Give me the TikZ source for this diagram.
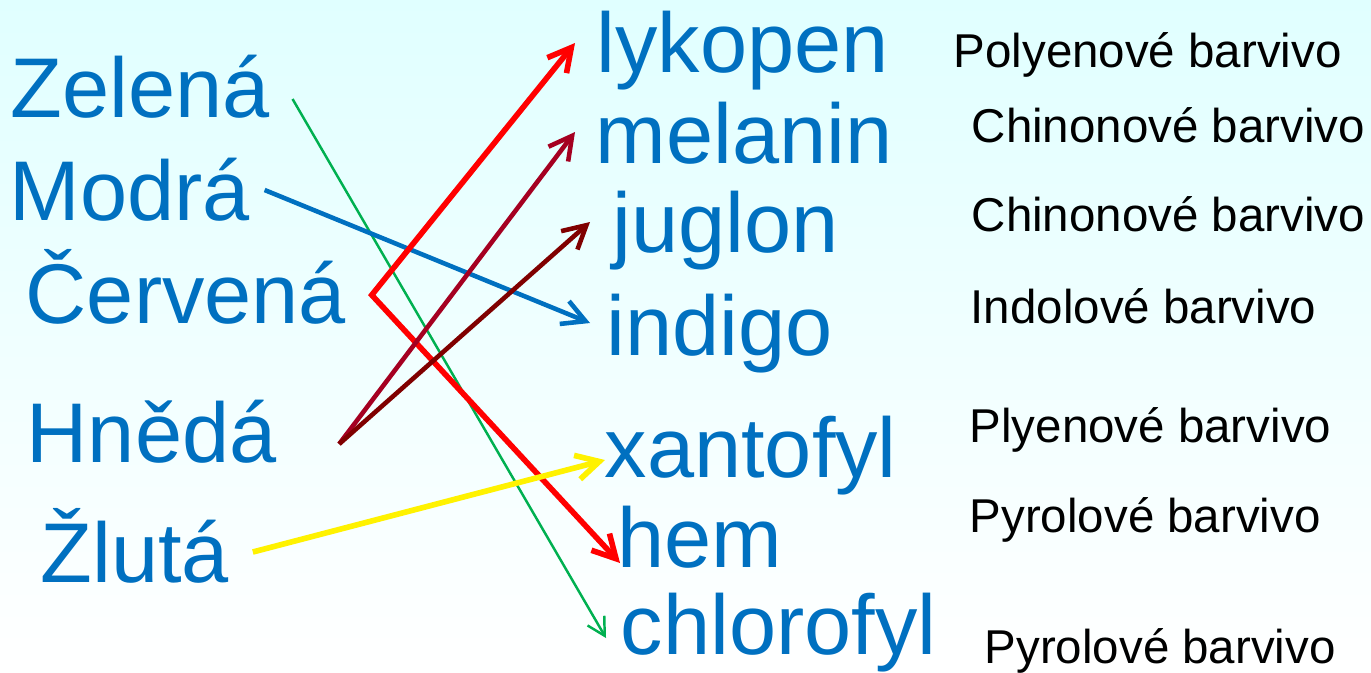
\documentclass[tikz,border=0pt]{standalone}
\usepackage{fontspec}
\setmainfont{Liberation Sans}
\usetikzlibrary{arrows.meta}
\definecolor{txtblue}{HTML}{0070C0}
\definecolor{linkgreen}{HTML}{00B050}
\definecolor{linkwine}{HTML}{A50021}
\definecolor{linkbrown}{HTML}{800000}
\definecolor{bgcyan}{RGB}{224,255,255}
\begin{document}
\begin{tikzpicture}[x=.01cm,y=-.01cm,
  barva/.style={anchor=base west,inner sep=0pt,text=txtblue,font=\fontsize{24.1}{28}\selectfont},
  latka/.style={anchor=base west,inner sep=0pt,font=\fontsize{13.5}{16}\selectfont},
  hrot/.tip={Straight Barb[length=6.5pt,width=7pt]},
  spoj/.style={line width=#1,-hrot}]
\fill[top color=bgcyan,bottom color=white] (0,0) rectangle (1371,670);
% barvy
\node[barva] (zel) at (10,117) {Zelená};
\node[barva] (mod) at (9,220) {Modrá};
\node[barva] (cer) at (25,323) {Červená};
\node[barva] (hne) at (26,462) {Hnědá};
\node[barva] (zlu) at (40,582) {Žlutá};
% latky
\node[barva] (lyk) at (596,72) {lykopen};
\node[barva] (mel) at (595,163) {melanin};
\node[barva] (jug) at (612,252) {juglon};
\node[barva] (ind) at (606,355) {indigo};
\node[barva] (xan) at (604,477) {xantofyl};
\node[barva] (hem) at (617,567) {hem};
\node[barva] (chl) at (620,654) {chlorofyl};
% typy barviv
\node[latka] (t1) at (953,67) {Polyenové barvivo};
\node[latka] (t2) at (971,142) {Chinonové barvivo};
\node[latka] (t3) at (971,231) {Chinonové barvivo};
\node[latka] (t4) at (970,323) {Indolové barvivo};
\node[latka] (t5) at (969,442) {Plyenové barvivo};
\node[latka] (t6) at (969,532) {Pyrolové barvivo};
\node[latka] (t7) at (984,663) {Pyrolové barvivo};
% prirazeni
\coordinate (roh) at ([shift={(25,-28)}]cer.base east);
\draw[linkgreen,line width=.7pt,-{Straight Barb[length=5pt,width=5.5pt]}] ([shift={(22,-18)}]zel.base east) -- ([shift={(-14,-16)}]chl.base west);
\draw[spoj=1.3pt,txtblue] ([shift={(14,-30)}]mod.base east) -- ([shift={(-16,-32)}]ind.base west);
\draw[spoj=1.6pt,red,hrot-hrot] ([shift={(-21,-29)}]lyk.base west) -- (roh) -- ([shift={(3,-4)}]hem.base west);
\draw[spoj=1.3pt,linkwine] ([shift={(62,-18)}]hne.base east) -- ([shift={(-20,-31)}]mel.base west);
\draw[spoj=1.3pt,linkbrown] ([shift={(62,-18)}]hne.base east) -- ([shift={(-22,-30)}]jug.base west);
\draw[spoj=1.6pt,yellow] ([shift={(23,-30)}]zlu.base east) -- ([shift={(1,-17)}]xan.base west);
\end{tikzpicture}
\end{document}
